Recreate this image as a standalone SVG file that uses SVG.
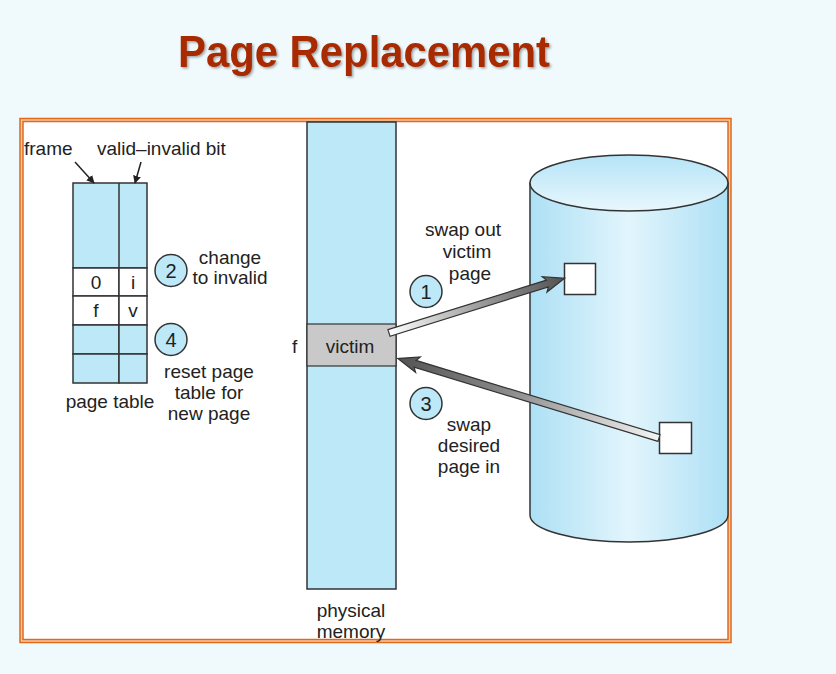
<svg xmlns="http://www.w3.org/2000/svg" width="836" height="674" viewBox="0 0 836 674">
<style>
.t{font-family:"Liberation Sans",Arial,sans-serif;font-size:19px;fill:#222}
.c{text-anchor:middle}
.n{font-size:20px}
.blue{fill:#bde8f8;stroke:#333;stroke-width:1.5}
.wh{fill:#fff;stroke:#333;stroke-width:1.5}
.num{fill:#bde8f8;stroke:#333;stroke-width:1.5}
.big{stroke:#333;stroke-width:1.2}
</style>
<defs>
<linearGradient id="cyl" x1="0" y1="0" x2="1" y2="0">
<stop offset="0" stop-color="#ade0f5"/>
<stop offset="0.5" stop-color="#e2f5fc"/>
<stop offset="1" stop-color="#ade0f5"/>
</linearGradient>
<linearGradient id="top" x1="0" y1="0" x2="0" y2="1">
<stop offset="0" stop-color="#b5e4f7"/>
<stop offset="1" stop-color="#e8f7fd"/>
</linearGradient>
<linearGradient id="ag" gradientUnits="userSpaceOnUse" x1="0" y1="0" x2="180" y2="0">
<stop offset="0" stop-color="#ffffff"/>
<stop offset="0.55" stop-color="#999"/>
<stop offset="1" stop-color="#555"/>
</linearGradient>
<linearGradient id="ag3" gradientUnits="userSpaceOnUse" x1="0" y1="0" x2="270" y2="0">
<stop offset="0" stop-color="#f4f4f4"/>
<stop offset="0.6" stop-color="#888"/>
<stop offset="1" stop-color="#555"/>
</linearGradient>
<marker id="sa" viewBox="0 0 10 10" refX="9" refY="5" markerWidth="8" markerHeight="8" orient="auto" markerUnits="userSpaceOnUse">
<path d="M0,0 L10,5 L0,10 z" fill="#222"/>
</marker>
<filter id="sh" x="-5%" y="-20%" width="110%" height="140%">
<feDropShadow dx="1.5" dy="1.5" stdDeviation="1.2" flood-color="#000" flood-opacity="0.35"/>
</filter>
</defs>
<rect width="836" height="674" fill="#f0fafd"/>
<g id="title">
<text x="178" y="67" font-family="Liberation Sans,Arial,sans-serif" font-weight="bold" font-size="44" fill="#a82a00" textLength="372" lengthAdjust="spacingAndGlyphs" filter="url(#sh)">Page Replacement</text>
</g>
<g id="frame">
<rect x="20" y="118.5" width="711" height="524" fill="#f7c9a8" stroke="#e06a1a" stroke-width="1.5"/>
<rect x="23" y="121.5" width="705" height="518" fill="#fff" stroke="#e06a1a" stroke-width="1.5"/>
</g>
<g id="page-table">
<rect class="blue" x="73" y="183" width="74" height="85"/>
<line x1="119" y1="183" x2="119" y2="268" stroke="#333" stroke-width="1.5"/>
<rect class="wh" x="73" y="268" width="46" height="28"/>
<rect class="wh" x="119" y="268" width="28" height="28"/>
<rect class="wh" x="73" y="296" width="46" height="29"/>
<rect class="wh" x="119" y="296" width="28" height="29"/>
<rect class="blue" x="73" y="325" width="46" height="29"/>
<rect class="blue" x="119" y="325" width="28" height="29"/>
<rect class="blue" x="73" y="354" width="46" height="29"/>
<rect class="blue" x="119" y="354" width="28" height="29"/>
<text class="t c" x="96" y="289">0</text>
<text class="t c" x="133" y="289">i</text>
<text class="t c" x="96" y="317">f</text>
<text class="t c" x="133" y="317">v</text>
<text class="t c" x="110" y="408">page table</text>
</g>
<g id="labels">
<text class="t" x="24" y="155">frame</text>
<text class="t" x="97" y="155">valid–invalid bit</text>
<text class="t c" x="230" y="264">change</text>
<text class="t c" x="230" y="284">to invalid</text>
<text class="t c" x="209" y="378">reset page</text>
<text class="t c" x="209" y="399">table for</text>
<text class="t c" x="209" y="420">new page</text>
<text class="t c" x="463" y="236">swap out</text>
<text class="t c" x="467" y="258">victim</text>
<text class="t c" x="470" y="280">page</text>
<text class="t c" x="469" y="431">swap</text>
<text class="t c" x="469" y="452">desired</text>
<text class="t c" x="469" y="473">page in</text>
</g>
<g id="step2"><circle class="num" cx="171" cy="270.5" r="16"/><text class="t c n" x="171" y="278">2</text></g>
<g id="step4"><circle class="num" cx="171" cy="339.5" r="16"/><text class="t c n" x="171" y="347">4</text></g>
<g id="step1"><circle class="num" cx="426" cy="291.5" r="16"/><text class="t c n" x="426" y="299">1</text></g>
<g id="step3"><circle class="num" cx="426" cy="403.5" r="16"/><text class="t c n" x="426" y="411">3</text></g>
<g id="memory">
<rect class="blue" x="307" y="122" width="89" height="467"/>
<rect x="307" y="324" width="89" height="42" fill="#c9c9c9" stroke="#333" stroke-width="1.2"/>
<text class="t c" x="350" y="353">victim</text>
<text class="t" x="292" y="353">f</text>
<text class="t c" x="351" y="617">physical</text>
<text class="t c" x="351" y="638">memory</text>
</g>
<g id="disk">
<path d="M530,183 L530,515 A99,27 0 0 0 728,515 L728,183 Z" fill="url(#cyl)" stroke="#333" stroke-width="1.5"/>
<ellipse cx="629" cy="183" rx="99" ry="28" fill="url(#top)" stroke="#333" stroke-width="1.5"/>
<rect class="wh" x="564.5" y="263.5" width="31" height="31"/>
<rect class="wh" x="659.5" y="422.5" width="32" height="31"/>
</g>
<g id="connectors">
<line x1="75" y1="162" x2="94" y2="183" stroke="#222" stroke-width="1.5" marker-end="url(#sa)"/>
<line x1="141" y1="162" x2="135" y2="183" stroke="#222" stroke-width="1.5" marker-end="url(#sa)"/>
<g transform="translate(389,333) rotate(-17.35)">
<path class="big" d="M0,-3.5 L166,-3.5 L163,-8 L184,0 L163,8 L166,3.5 L0,3.5 Z" fill="url(#ag)"/>
</g>
<g transform="translate(659,438) rotate(196.92)">
<path class="big" d="M0,-3.5 L255,-3.5 L252,-8 L273,0 L252,8 L255,3.5 L0,3.5 Z" fill="url(#ag3)"/>
</g>
</g>
</svg>
